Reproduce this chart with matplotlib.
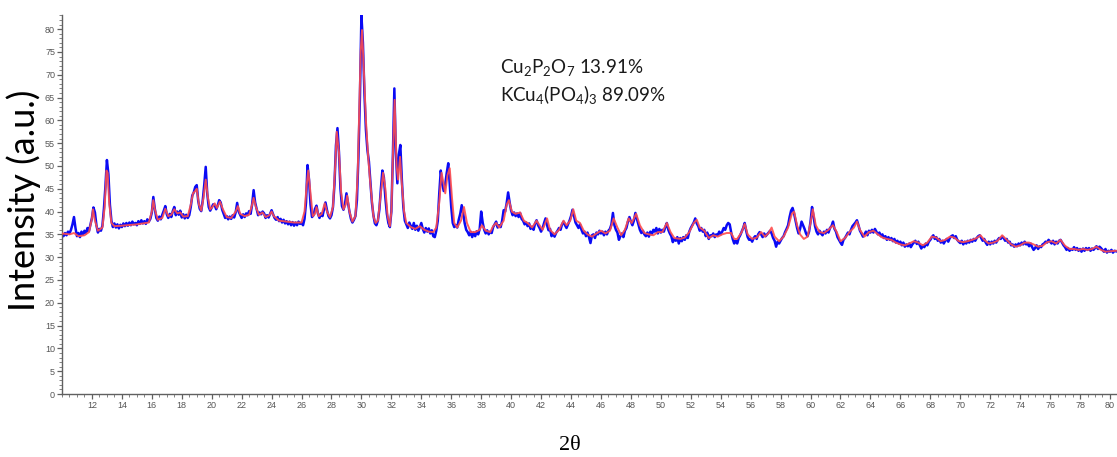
"""
XRD pattern with Rietveld fit: observed (blue) vs calculated (red) intensity.
"""

import numpy as np
import matplotlib
matplotlib.use('Agg')
import matplotlib.pyplot as plt
from matplotlib.ticker import MultipleLocator

# ── Observed pattern, 0.1° steps from 10.0° (one row per degree) ──────
OBS_START, OBS_STEP = 10.0, 0.1
obs_rows = [
    [35.1, 34.6, 35.3, 34.8, 35.6, 35.2, 36.0, 37.2, 38.8, 36.4],   # 10
    [34.6, 35.3, 34.4, 35.6, 34.9, 35.8, 35.2, 36.4, 35.7, 37.2],   # 11
    [38.6, 40.9, 39.8, 37.0, 35.4, 36.2, 35.8, 36.9, 40.6, 45.5],   # 12
    [51.3, 48.2, 41.5, 38.0, 36.6, 37.4, 36.5, 37.2, 36.3, 37.1],   # 13
    [36.6, 37.4, 36.8, 37.5, 36.9, 37.6, 37.0, 37.8, 37.2, 37.5],   # 14
    [37.0, 37.9, 37.3, 38.1, 37.4, 37.9, 37.3, 38.3, 37.8, 38.4],   # 15
    [39.8, 43.2, 40.6, 38.6, 38.0, 38.9, 38.3, 39.3, 40.2, 41.2],   # 16
    [39.4, 38.6, 39.5, 38.8, 40.1, 41.0, 39.2, 40.0, 39.3, 40.2],   # 17
    [38.7, 39.4, 38.5, 39.3, 38.6, 39.2, 41.0, 43.5, 44.2, 45.4],   # 18
    [45.8, 42.3, 40.6, 40.1, 42.4, 45.8, 49.8, 44.0, 41.0, 40.2],   # 19
    [40.9, 41.6, 41.4, 40.5, 41.3, 42.5, 42.0, 40.4, 39.5, 38.6],   # 20
    [39.0, 38.3, 38.9, 38.4, 39.2, 38.7, 39.8, 41.9, 40.0, 39.3],   # 21
    [38.6, 39.4, 38.8, 39.6, 39.2, 40.1, 39.5, 41.6, 44.7, 42.0],   # 22
    [40.6, 39.2, 39.8, 39.4, 40.0, 39.6, 38.6, 39.2, 38.7, 39.5],   # 23
    [40.3, 39.4, 38.6, 38.2, 38.8, 37.9, 38.4, 37.6, 38.2, 37.4],   # 24
    [37.9, 37.2, 37.8, 37.0, 37.7, 36.9, 37.6, 37.0, 37.8, 37.3],   # 25
    [37.6, 37.0, 38.4, 42.0, 50.2, 47.0, 41.5, 38.8, 39.2, 40.6],   # 26
    [41.3, 39.5, 38.6, 39.6, 39.0, 40.5, 42.0, 40.3, 39.0, 38.5],   # 27
    [39.2, 41.0, 46.0, 54.5, 58.3, 53.0, 45.0, 41.2, 40.4, 41.6],   # 28
    [44.0, 42.0, 40.0, 38.4, 37.6, 38.2, 39.0, 42.5, 52.0, 65.0],   # 29
    [83.0, 77.0, 66.0, 58.0, 53.5, 51.0, 46.5, 42.0, 39.2, 37.4],   # 30
    [37.0, 38.0, 40.5, 45.0, 49.0, 47.5, 43.0, 39.5, 37.5, 36.6],   # 31
    [40.0, 52.0, 67.0, 53.0, 46.2, 52.5, 54.6, 47.0, 41.0, 38.0],   # 32
    [37.2, 36.4, 37.6, 36.8, 36.2, 37.5, 36.0, 36.9, 35.8, 36.6],   # 33
    [37.5, 36.2, 35.4, 36.4, 35.6, 36.3, 35.2, 35.9, 34.6, 34.4],   # 34
    [35.8, 38.0, 44.0, 49.0, 46.0, 44.5, 46.0, 48.5, 50.6, 46.0],   # 35
    [41.0, 37.5, 36.6, 37.0, 36.5, 38.2, 39.5, 41.4, 39.6, 37.4],   # 36
    [36.0, 35.5, 34.8, 35.6, 34.4, 35.4, 34.6, 35.7, 35.0, 36.2],   # 37
    [40.0, 37.6, 36.0, 35.2, 35.9, 35.0, 35.6, 35.3, 36.6, 37.2],   # 38
    [37.8, 36.5, 37.0, 36.6, 38.0, 40.3, 40.0, 41.8, 44.2, 42.0],   # 39
    [40.2, 39.2, 39.8, 39.0, 39.6, 38.8, 39.7, 38.4, 38.0, 37.2],   # 40
    [37.6, 36.8, 37.4, 36.2, 36.7, 36.0, 37.4, 38.1, 37.0, 36.4],   # 41
    [35.6, 36.3, 37.5, 38.5, 37.0, 35.9, 36.2, 34.6, 35.2, 34.5],   # 42
    [35.3, 35.8, 36.4, 36.0, 37.2, 37.8, 37.0, 36.4, 37.2, 38.0],   # 43
    [39.0, 40.4, 39.0, 37.6, 37.0, 36.4, 37.2, 36.0, 35.2, 35.6],   # 44
    [34.6, 35.4, 34.4, 33.1, 34.8, 35.0, 34.2, 35.4, 35.0, 35.8],   # 45
    [35.2, 35.6, 34.8, 35.6, 35.0, 35.8, 36.2, 37.2, 39.7, 37.0],   # 46
    [36.0, 35.4, 33.8, 34.6, 35.2, 34.4, 35.8, 36.4, 37.8, 38.8],   # 47
    [37.8, 37.0, 38.0, 39.7, 38.4, 37.2, 36.0, 35.3, 35.8, 35.0],   # 48
    [34.6, 35.4, 34.5, 35.6, 35.0, 36.0, 35.6, 36.4, 35.2, 36.2],   # 49
    [35.4, 36.0, 35.6, 36.6, 37.5, 36.0, 35.2, 34.6, 33.3, 34.0],   # 50
    [33.6, 34.4, 33.0, 34.2, 33.5, 34.4, 33.8, 34.8, 34.2, 35.6],   # 51
    [36.4, 37.0, 37.6, 38.5, 37.4, 36.8, 35.8, 36.4, 35.6, 36.0],   # 52
    [34.6, 35.4, 34.0, 34.8, 34.6, 35.2, 34.4, 35.0, 34.8, 35.6],   # 53
    [35.0, 35.6, 36.4, 36.0, 37.0, 37.5, 37.2, 35.4, 34.0, 33.0],   # 54
    [33.6, 33.0, 34.2, 34.8, 35.6, 36.4, 37.5, 35.8, 34.4, 33.8],   # 55
    [34.0, 33.4, 34.2, 34.6, 34.0, 35.0, 35.5, 35.0, 34.4, 35.2],   # 56
    [34.6, 35.0, 35.4, 35.8, 35.2, 34.2, 33.6, 32.3, 33.4, 33.0],   # 57
    [33.6, 34.2, 34.6, 35.5, 36.2, 37.0, 38.8, 40.2, 40.8, 39.6],   # 58
    [38.0, 36.4, 35.2, 36.2, 37.8, 37.0, 36.2, 35.2, 34.6, 35.6],   # 59
    [37.8, 41.0, 39.0, 36.8, 35.6, 35.0, 35.8, 35.2, 34.8, 35.6],   # 60
    [35.2, 36.0, 35.4, 36.4, 36.8, 37.8, 36.2, 35.6, 34.4, 33.8],   # 61
    [33.2, 32.7, 33.8, 34.2, 34.8, 35.4, 35.0, 36.0, 36.8, 37.2],   # 62
    [37.6, 38.1, 37.0, 35.8, 35.2, 34.5, 35.0, 35.6, 34.8, 35.8],   # 63
    [35.4, 36.0, 35.4, 36.2, 35.6, 35.0, 35.4, 34.6, 35.0, 34.2],   # 64
    [34.6, 33.8, 34.4, 33.8, 34.2, 33.5, 34.0, 33.2, 33.6, 33.0],   # 65
    [33.4, 32.6, 33.2, 32.3, 32.8, 32.4, 33.0, 32.2, 32.8, 33.2],   # 66
    [33.6, 32.9, 33.4, 32.6, 31.9, 32.6, 32.2, 33.0, 32.6, 33.4],   # 67
    [33.8, 34.4, 34.8, 34.0, 34.4, 33.6, 34.0, 33.2, 33.6, 33.0],   # 68
    [33.6, 34.0, 33.4, 34.2, 34.6, 34.8, 34.2, 34.6, 33.8, 33.4],   # 69
    [33.1, 33.6, 32.8, 33.4, 33.0, 33.6, 33.2, 33.8, 33.4, 34.0],   # 70
    [33.6, 34.2, 34.6, 34.8, 34.2, 33.6, 34.0, 33.2, 32.7, 33.4],   # 71
    [32.8, 33.4, 33.0, 33.6, 33.2, 33.8, 34.2, 34.0, 34.5, 34.2],   # 72
    [33.6, 34.0, 33.2, 33.4, 32.6, 32.8, 32.3, 32.8, 32.4, 33.0],   # 73
    [32.6, 33.2, 32.8, 33.4, 32.8, 33.0, 32.4, 33.0, 32.2, 31.6],   # 74
    [32.0, 32.6, 31.8, 32.4, 32.2, 32.8, 33.0, 33.4, 33.2, 33.8],   # 75
    [33.4, 33.0, 33.6, 32.8, 33.4, 33.0, 33.6, 33.8, 33.2, 32.6],   # 76
    [32.2, 31.6, 32.0, 31.4, 31.8, 31.6, 32.2, 31.6, 32.0, 31.4],   # 77
    [31.8, 31.2, 31.9, 31.4, 32.0, 31.6, 32.0, 31.4, 31.9, 31.6],   # 78
    [32.0, 32.4, 31.8, 32.3, 32.0, 31.6, 31.2, 31.8, 31.0, 31.4],   # 79
    [31.2, 31.6, 31.0, 31.4, 31.3],                                  # 80
]

# ── Calculated profile (vertices of the fitted curve) ─────────────────
calc_tt = [
    10.0, 10.5, 10.8, 11.1, 11.5, 11.8, 12.0, 12.07, 12.2, 12.4, 12.7, 12.85,
    12.97, 13.05, 13.15, 13.3, 13.5, 14.0, 15.0, 15.8, 16.0, 16.1, 16.2, 16.4,
    16.7, 16.9, 17.1, 17.3, 17.5, 17.7, 17.9, 18.1, 18.4, 18.6, 18.75, 18.9,
    19.0, 19.15, 19.3, 19.45, 19.6, 19.75, 19.9, 20.05, 20.2, 20.35, 20.55, 20.75,
    21.0, 21.3, 21.6, 21.75, 21.9, 22.2, 22.5, 22.7, 22.8, 22.95, 23.15, 23.4,
    23.6, 23.85, 24.0, 24.15, 24.5, 25.0, 25.5, 26.0, 26.2, 26.35, 26.45, 26.6,
    26.75, 26.9, 27.0, 27.15, 27.35, 27.55, 27.7, 27.9, 28.1, 28.25, 28.35, 28.5,
    28.65, 28.8, 28.95, 29.05, 29.2, 29.4, 29.6, 29.75, 29.85, 29.95, 30.04, 30.15,
    30.3, 30.45, 30.6, 30.8, 30.95, 31.1, 31.25, 31.45, 31.6, 31.75, 31.9, 32.0,
    32.1, 32.22, 32.35, 32.45, 32.58, 32.7, 32.85, 33.0, 33.3, 33.6, 33.9, 34.2,
    34.5, 34.8, 35.0, 35.2, 35.35, 35.5, 35.6, 35.75, 35.9, 36.05, 36.2, 36.4,
    36.65, 36.85, 37.05, 37.3, 37.6, 37.9, 38.05, 38.3, 38.6, 38.8, 39.0, 39.2,
    39.5, 39.7, 39.85, 40.05, 40.3, 40.6, 40.85, 41.1, 41.4, 41.7, 41.9, 42.1,
    42.4, 42.6, 42.9, 43.2, 43.5, 43.7, 43.95, 44.15, 44.35, 44.6, 44.85, 45.1,
    45.4, 45.7, 46.0, 46.3, 46.6, 46.85, 47.1, 47.35, 47.6, 47.85, 48.05, 48.35,
    48.6, 48.9, 49.2, 49.5, 49.8, 50.1, 50.4, 50.65, 50.9, 51.3, 51.6, 51.9,
    52.2, 52.4, 52.6, 52.9, 53.2, 53.5, 53.8, 54.1, 54.4, 54.7, 54.9, 55.1,
    55.4, 55.6, 55.8, 56.1, 56.4, 56.7, 56.95, 57.2, 57.4, 57.6, 57.9, 58.2,
    58.5, 58.75, 58.9, 59.1, 59.3, 59.55, 59.8, 60.0, 60.15, 60.35, 60.6, 60.9,
    61.2, 61.5, 61.75, 62.0, 62.3, 62.6, 62.9, 63.1, 63.3, 63.6, 63.9, 64.2,
    64.5, 64.8, 65.1, 65.4, 65.7, 66.0, 66.3, 66.6, 66.9, 67.2, 67.5, 67.8,
    68.1, 68.4, 68.7, 69.0, 69.3, 69.6, 69.9, 70.2, 70.5, 70.8, 71.1, 71.35,
    71.6, 71.9, 72.2, 72.5, 72.8, 73.1, 73.4, 73.7, 74.0, 74.3, 74.6, 74.9,
    75.2, 75.5, 75.8, 76.1, 76.4, 76.7, 77.0, 77.3, 77.6, 77.9, 78.2, 78.5,
    78.8, 79.1, 79.4, 79.7, 80.0, 80.4,
]
calc_int = [
    35.2, 35.0, 35.3, 34.6, 34.8, 35.5, 38.5, 40.5, 38.0, 35.8, 36.5, 41.0,
    49.0, 48.5, 42.0, 37.5, 36.8, 36.9, 37.2, 37.6, 40.0, 42.5, 40.5, 38.2,
    38.6, 40.6, 39.0, 39.3, 40.5, 39.6, 39.8, 38.9, 39.0, 41.5, 44.0, 44.5,
    45.0, 41.5, 40.2, 43.0, 47.0, 43.0, 40.5, 41.0, 41.8, 40.8, 42.2, 40.5,
    38.8, 38.6, 40.0, 41.2, 39.5, 39.0, 39.3, 41.5, 43.0, 41.0, 39.3, 39.8,
    38.8, 39.2, 40.0, 39.0, 38.0, 37.8, 37.6, 37.6, 40.0, 46.0, 49.0, 44.0,
    39.0, 39.5, 41.0, 39.0, 39.5, 41.8, 40.0, 38.8, 41.0, 50.0, 57.5, 53.0,
    44.0, 40.5, 41.5, 43.5, 40.0, 37.8, 39.0, 48.0, 62.0, 75.0, 79.8, 72.0,
    60.0, 52.0, 46.0, 39.0, 37.5, 38.0, 42.5, 48.5, 45.0, 39.0, 36.8, 40.0,
    52.0, 64.5, 50.0, 47.0, 52.0, 46.0, 40.0, 37.5, 36.6, 36.2, 36.8, 36.0,
    35.6, 35.5, 36.5, 42.0, 48.5, 46.0, 44.0, 48.0, 49.5, 43.0, 37.5, 36.5,
    38.0, 41.0, 37.5, 35.5, 35.5, 36.0, 37.0, 35.8, 35.5, 36.8, 37.5, 36.5,
    38.0, 41.5, 42.5, 40.0, 39.5, 39.8, 38.0, 37.5, 36.5, 38.0, 37.0, 36.0,
    38.5, 36.0, 35.0, 36.0, 38.0, 37.0, 38.0, 40.5, 38.0, 37.5, 35.8, 35.0,
    34.5, 35.2, 35.8, 35.2, 35.8, 38.5, 36.5, 34.8, 36.0, 38.5, 37.5, 39.5,
    37.0, 35.3, 35.0, 34.8, 35.5, 35.5, 37.5, 35.5, 34.2, 34.0, 34.3, 35.5,
    37.5, 38.2, 36.5, 35.8, 34.2, 34.8, 34.5, 35.0, 35.3, 35.3, 34.0, 34.0,
    35.5, 37.3, 35.0, 34.0, 34.3, 35.5, 34.5, 35.3, 36.5, 34.5, 33.5, 34.5,
    36.5, 39.5, 40.0, 37.0, 35.0, 34.0, 34.5, 37.5, 40.5, 37.0, 35.5, 35.3,
    36.0, 37.0, 35.5, 33.5, 34.2, 35.5, 36.5, 37.8, 36.0, 34.5, 35.5, 35.8,
    35.0, 34.3, 34.0, 33.8, 33.2, 32.8, 32.6, 33.0, 33.5, 33.2, 32.6, 33.2,
    34.5, 34.3, 33.5, 33.8, 34.5, 34.3, 33.5, 33.3, 33.5, 33.8, 34.2, 34.8,
    33.8, 33.0, 33.2, 33.6, 34.8, 33.8, 32.8, 32.3, 32.6, 33.2, 33.2, 32.8,
    32.3, 32.5, 33.3, 33.5, 33.0, 33.8, 32.5, 31.8, 31.8, 31.6, 31.8, 31.6,
    31.8, 32.3, 31.6, 31.2, 31.3, 31.4,
]

phase_labels = [
    r'Cu$_\mathregular{2}$P$_\mathregular{2}$O$_\mathregular{7}$ 13.91%',
    r'KCu$_\mathregular{4}$(PO$_\mathregular{4}$)$_\mathregular{3}$ 89.09%',
]

obs_int = np.concatenate([np.asarray(r, dtype=float) for r in obs_rows])
obs_tt = OBS_START + OBS_STEP * np.arange(len(obs_int))

plt.rcParams['font.family'] = ['Liberation Sans', 'DejaVu Sans']
plt.rcParams['mathtext.fontset'] = 'custom'
plt.rcParams['mathtext.rm'] = 'Lato'

W, H, DPI = 1117, 457, 100
fig = plt.figure(figsize=(W / DPI, H / DPI), dpi=DPI)
ax = fig.add_axes([62 / W, 63 / H, 1055 / W, 379 / H])

ax.plot(obs_tt, obs_int, color='#0a0af5', lw=1.8, zorder=2)
ax.plot(calc_tt, calc_int, color='#ff4d4d', lw=1.4, alpha=0.9, zorder=3)

ax.set_xlim(10, 80.47)
ax.set_ylim(0, 83.1)

ax.xaxis.set_major_locator(MultipleLocator(2))
ax.xaxis.set_minor_locator(MultipleLocator(0.5))
ax.yaxis.set_major_locator(MultipleLocator(5))
ax.yaxis.set_minor_locator(MultipleLocator(1))
ax.set_xticks(np.arange(12, 81, 2))

for side in ('top', 'right'):
    ax.spines[side].set_visible(False)
for side in ('left', 'bottom'):
    ax.spines[side].set_color('#606060')
    ax.spines[side].set_linewidth(1.0)

ax.tick_params(which='major', direction='out', length=3.5, width=0.9,
               color='#606060', labelcolor='#555555', labelsize=6.5, pad=1.5)
ax.tick_params(which='minor', direction='out', length=2, width=0.6,
               color='#707070')

fig.text(24 / W, 1 - 200 / H, 'Intensity (a.u.)', rotation=90,
         ha='center', va='center', fontsize=26, family='Lato', color='black')
fig.text(570 / W, 1 - 445 / H, '2θ', ha='center', va='center',
         fontsize=16, family='Liberation Serif', color='black')

for i, label in enumerate(phase_labels):
    fig.text(500 / W, 1 - (68 + 27 * i) / H, label, ha='left', va='center',
             fontsize=13.5, family='Lato', color='#1a1a1a')

fig.savefig('out.png', dpi=DPI)
